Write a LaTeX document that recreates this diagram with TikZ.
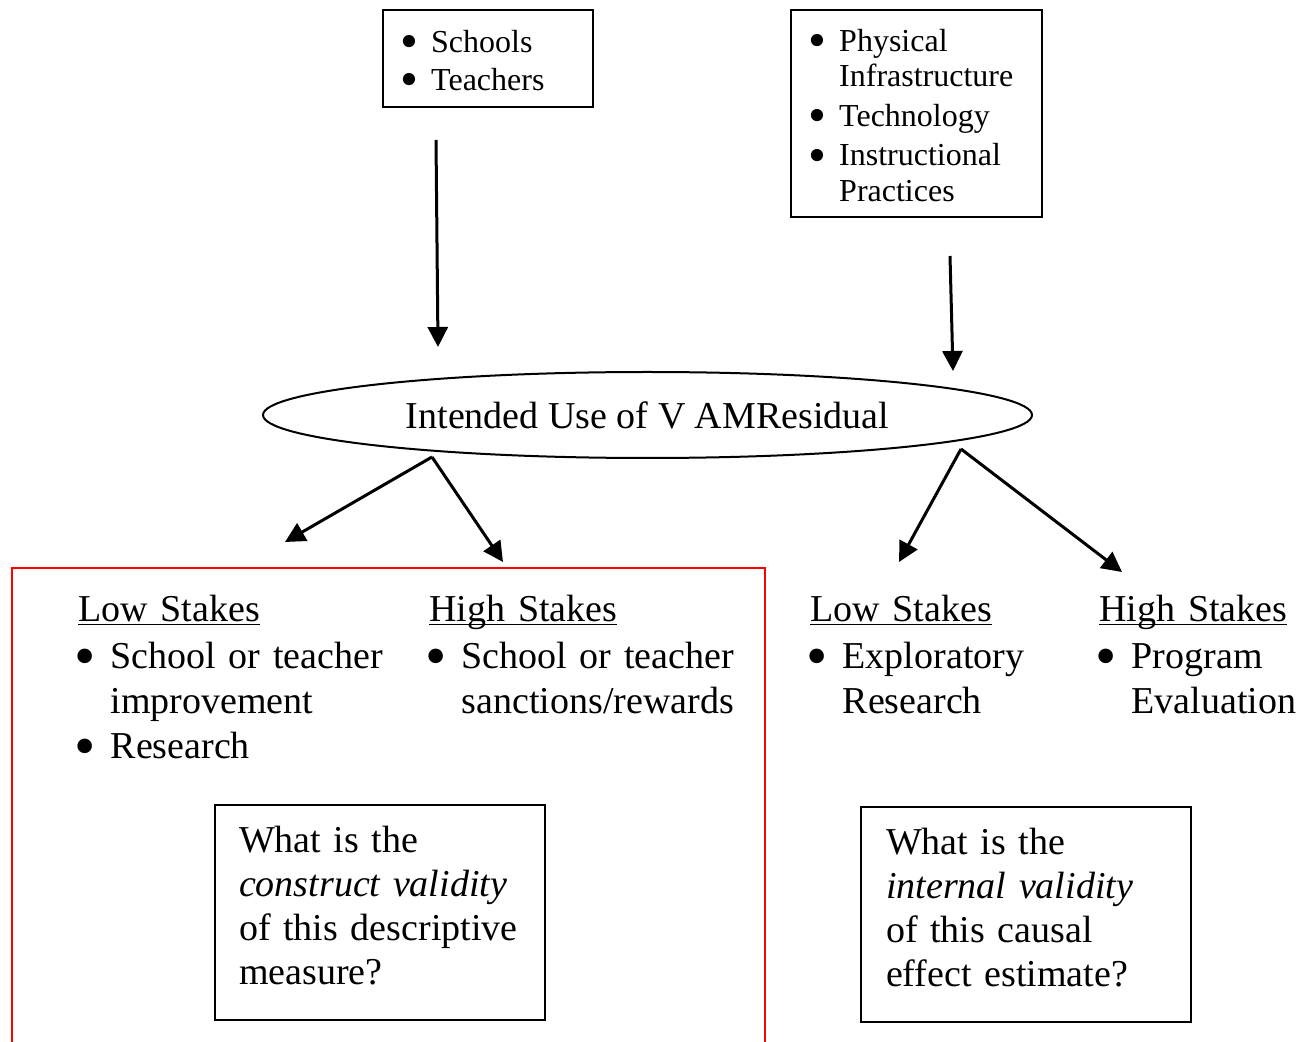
\documentclass[tikz,border=0pt]{standalone}
\usepackage{fontspec}
\setmainfont{Liberation Serif}
\usetikzlibrary{arrows.meta,shapes.geometric}

\newcommand{\bul}{\makebox[0.85em][l]{\hspace{-0.1em}\raisebox{-0.2em}{\scalebox{1.6}{\textbullet}}}}
\newcommand{\ind}{\hspace*{0.85em}}
\newcommand{\stakeshead}[1]{\underline{\smash{#1}}}

\begin{document}
\begin{tikzpicture}[x=0.5pt, y=-0.5pt,
    every node/.style={inner sep=0pt, align=left},
    listbox/.style={draw, line width=1pt, anchor=north west, inner xsep=10.5pt},
    qbox/.style={draw, line width=1pt, anchor=north west, inner xsep=12pt, text depth=73pt,
        text width=141pt, minimum height=107.5pt, font=\fontsize{19}{22}\selectfont},
    stakes/.style={anchor=base west, text width=165pt, font=\fontsize{19}{22.5}\selectfont},
    arr/.style={-{Triangle[length=10pt,width=10pt]}, line width=1.5pt}]
    \useasboundingbox (0,0) rectangle (1301,1042);

    % top boxes
    \node[listbox, text width=84pt, minimum height=48.5pt, font=\fontsize{16}{19}\selectfont,
        text height=13pt, text depth=19pt] (units) at (382,9)
        {\bul Schools\\ \bul Teachers};
    \node[listbox, text width=104.5pt, minimum height=103.5pt, font=\fontsize{16}{17.75}\selectfont,
        text height=13pt, text depth=75pt] (factors) at (790,9)
        {\bul Physical\\ \ind Infrastructure\\[2pt] \bul Technology\\[2pt] \bul Instructional\\ \ind Practices};

    % ellipse
    \node[ellipse, draw, line width=1pt, minimum width=384.5pt, minimum height=43pt,
        font=\fontsize{19}{22}\selectfont] (use) at (647.5,415) {Intended Use of V AMResidual};

    % red frame
    \draw[red, line width=1pt] (12,1042) -- (12,568) -- (765,568) -- (765,1042);

    % stakes
    \node[stakes] (lowl) at (78,622)
        {\stakeshead{Low Stakes}\\[1pt] \bul School or teacher\\ \ind improvement\\ \bul Research};
    \node[stakes] (highl) at (429,622)
        {\stakeshead{High Stakes}\\[1pt] \bul School or teacher\\ \ind sanctions/rewards};
    \node[stakes] (lowr) at (810,622)
        {\stakeshead{Low Stakes}\\[1pt] \bul Exploratory\\ \ind Research};
    \node[stakes] (highr) at (1099,622)
        {\stakeshead{High Stakes}\\[1pt] \bul Program\\ \ind Evaluation};

    % questions
    \node[qbox] (qconstruct) at (214,804)
        {What is the\\ \textit{construct validity}\\ of this descriptive\\ measure?};
    \node[qbox, text width=140pt, inner xsep=12.5pt] (qinternal) at (860,806)
        {What is the\\ \textit{internal validity}\\ of this causal\\ effect estimate?};

    % arrows
    \coordinate (u1) at (436,140);
    \coordinate (u2) at (438,347);
    \coordinate (f1) at (950,256);
    \coordinate (f2) at (953,371);
    \coordinate (ul) at (432,457);
    \coordinate (ur) at (961,449);
    \coordinate (tl1) at (285,542);
    \coordinate (tl2) at (503,562);
    \coordinate (tr1) at (899,562);
    \coordinate (tr2) at (1122,572);

    \draw[arr] (u1) -- (u2);
    \draw[arr] (f1) -- (f2);
    \draw[arr] (ul) -- (tl1);
    \draw[arr] (ul) -- (tl2);
    \draw[arr] (ur) -- (tr1);
    \draw[arr] (ur) -- (tr2);
\end{tikzpicture}
\end{document}
